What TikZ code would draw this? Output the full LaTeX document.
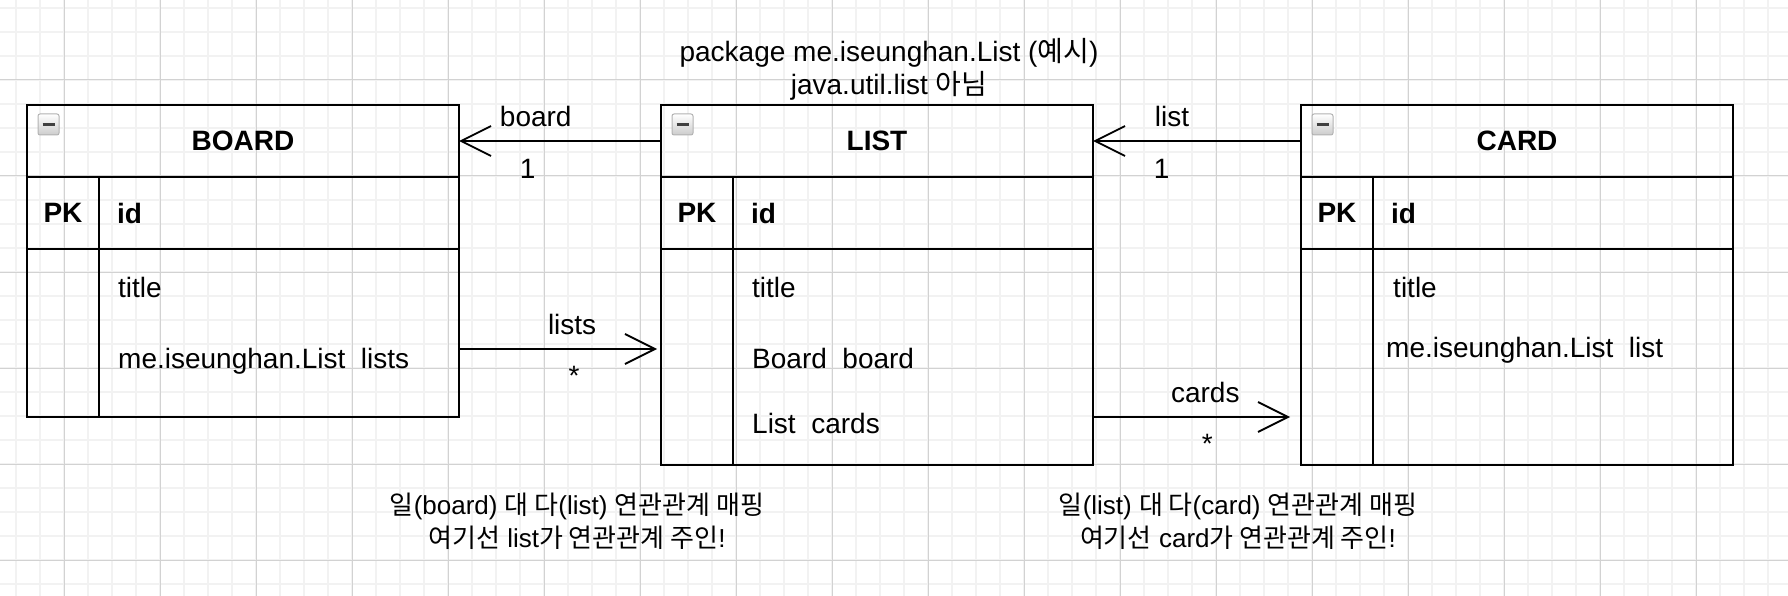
\documentclass[tikz,border=0pt]{standalone}
\usepackage{fontspec}
\setmainfont{Liberation Sans}
\newfontfamily\krfont{Noto Sans CJK KR}
\newcommand{\kotext}[1]{{\krfont #1}}
\usepackage{tikz}
\usetikzlibrary{arrows.meta,positioning}
\tikzset{
  gridminor/.style={ draw=gray!10, line width=1.2pt }
}
\tikzset{
  gridmajor/.style={ draw=gray!35, line width=1pt }
}
\tikzset{
  entity/.style={ draw, line width=2.2pt, outer sep=0pt, minimum width=432pt, minimum height=72pt, font=\fontsize{28}{32}\selectfont\bfseries }
}
\tikzset{
  keycell/.style={ draw, line width=2.2pt, outer sep=0pt, minimum width=72pt, minimum height=72pt, font=\fontsize{28}{32}\selectfont\bfseries }
}
\tikzset{
  namecell/.style={ draw, line width=2.2pt, outer sep=0pt, minimum width=360pt, minimum height=72pt, text width=324pt, inner xsep=18pt, align=left, font=\fontsize{28}{32}\selectfont\bfseries }
}
\tikzset{
  field/.style={ anchor=base west, inner sep=0pt }
}
\tikzset{
  fold/.style={ draw=gray!60, line width=1pt, top color=white, bottom color=gray!40, rounded corners=2pt, minimum size=21pt, inner sep=0pt,
    path picture={\draw[line width=3pt, black!75] ([xshift=-6pt]path picture bounding box.center) -- ([xshift=6pt]path picture bounding box.center);} }
}
\tikzset{
  assoc/.style={ line width=1.8pt, -{Straight Barb[length=30pt, width=30pt]} }
}
\tikzset{
  note/.style={ align=center, inner sep=2pt, font=\fontsize{26}{33}\selectfont }
}

\begin{document}
\begin{tikzpicture}[x=1pt, y=-1pt, font=\fontsize{28}{32}\selectfont]
      \useasboundingbox (0,0) rectangle (1788,596);
      \foreach \gx in {16,40,...,1780} \draw[gridminor] (\gx,0) -- (\gx,596);
      \foreach \gy in {8,32,...,596} \draw[gridminor] (0,\gy) -- (1788,\gy);
      \foreach \gx in {64,160,...,1788} \draw[gridmajor] (\gx,0) -- (\gx,596);
      \foreach \gy in {80,176,...,596} \draw[gridmajor] (0,\gy) -- (1788,\gy);

      \node[entity] (board) at (243, 141) {BOARD};
      \node[fold] (board-fold) at ([xshift=21.5pt, yshift=-19.5pt]board.north west) {};
      \node[keycell, below right=0pt of board.south west] (board-pk) {PK};
      \node[namecell, right=0pt of board-pk] (board-id) {id};
      \node[keycell, below=0pt of board-pk, minimum height=168pt] (board-key) {};
      \node[namecell, below=0pt of board-id, minimum height=168pt] (board-attr) {};
      \node[field] (board-title) at (118, 297) {title};
      \node[field] (board-lists) at (118, 368) {me.iseunghan.List\ \ lists};

      \node[entity] (list) at (877, 141) {LIST};
      \node[fold] (list-fold) at ([xshift=21.5pt, yshift=-19.5pt]list.north west) {};
      \node[keycell, below right=0pt of list.south west] (list-pk) {PK};
      \node[namecell, right=0pt of list-pk] (list-id) {id};
      \node[keycell, below=0pt of list-pk, minimum height=216pt] (list-key) {};
      \node[namecell, below=0pt of list-id, minimum height=216pt] (list-attr) {};
      \node[field] (list-title) at (752, 297) {title};
      \node[field] (list-board) at (752, 368) {Board\ \ board};
      \node[field] (list-cards) at (752, 433) {List\ \ cards};

      \node[entity] (card) at (1517, 141) {CARD};
      \node[fold] (card-fold) at ([xshift=21.5pt, yshift=-19.5pt]card.north west) {};
      \node[keycell, below right=0pt of card.south west] (card-pk) {PK};
      \node[namecell, right=0pt of card-pk] (card-id) {id};
      \node[keycell, below=0pt of card-pk, minimum height=216pt] (card-key) {};
      \node[namecell, below=0pt of card-id, minimum height=216pt] (card-attr) {};
      \node[field] (card-title) at (1393, 297) {title};
      \node[field] (card-list) at (1386, 357) {me.iseunghan.List\ \ list};

      \node[note, font=\fontsize{28}{33}\selectfont, above=2pt of list, xshift=12pt] (pkg-note) {package me.iseunghan.List (\kotext{예시})\\java.util.list \kotext{아님}};
      \node[note] (board-note) at (577, 521) {\kotext{일}(board) \kotext{대 다}(list) \kotext{연관관계 매핑}\\\kotext{여기선} list\kotext{가 연관관계 주인}!};
      \node[note] (card-note) at (1238, 521) {\kotext{일}(list) \kotext{대 다}(card) \kotext{연관관계 매핑}\\\kotext{여기선} card\kotext{가 연관관계 주인}!};

      \begin{scope}[assoc]
        \draw (list.west) -- node[pos=0.62, above=10pt] {board} node[pos=0.66, below=14pt] {1} (board.east);
        \draw (card.west) -- node[pos=0.62, above=10pt] {list} node[pos=0.67, below=14pt] {1} (list.east);
        \draw[shorten >=4pt] ([yshift=-16pt]board-attr.east) -- node[pos=0.56, above=10pt] {lists} node[pos=0.57, below=13pt] {*} ([yshift=-16pt]board-attr.east -| list-key.west);
        \draw[shorten >=11pt] ([yshift=-60pt]list-attr.east) -- node[pos=0.54, above=10pt] {cards} node[pos=0.55, below=13pt] {*} ([yshift=-60pt]list-attr.east -| card-key.west);
      \end{scope}
\end{tikzpicture}
\end{document}
